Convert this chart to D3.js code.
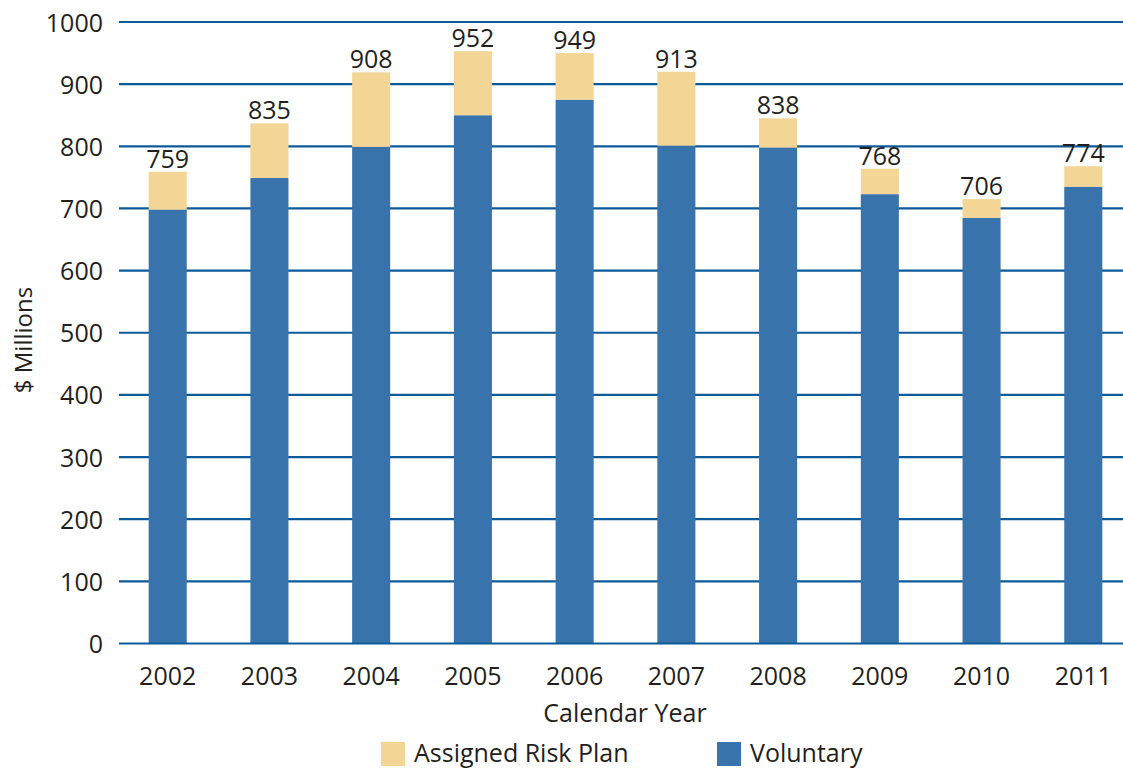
<!DOCTYPE html>
<html>
<head>
<meta charset="utf-8">
<script src="https://cdn.jsdelivr.net/npm/d3@7"></script>
<style>
  body { margin: 0; background: #fff; }
  text { font-family: "Open Sans", sans-serif; fill: #231f20; }
</style>
</head>
<body>
<script>
const w = 1123;
const h = 768;

// data
const years = ["2002", "2003", "2004", "2005", "2006", "2007", "2008", "2009", "2010", "2011"];
const voluntary = [698, 749, 799, 850, 875, 801, 798, 723, 685, 735];
const assignedRisk = [61, 88, 120, 103, 75, 119, 47, 41, 30, 33];
const totalLabels = [759, 835, 908, 952, 949, 913, 838, 768, 706, 774];
const yTicks = [0, 100, 200, 300, 400, 500, 600, 700, 800, 900, 1000];

const blue = "#3873ac";
const tan = "#f3d595";
const gridColor = "#0b5a9a";
const fs = 25;

const svg = d3.select("body").append("svg").attr("width", w).attr("height", h);

const rows = years.map((y, i) => ({
  year: y,
  voluntary: voluntary[i],
  assigned: assignedRisk[i],
  label: totalLabels[i]
}));

const xScale = d3.scaleBand().domain(years).range([85, 1166]).padding(0.626);
const yScale = d3.scaleLinear().domain([0, 1000]).range([643.5, 22]);

// y ticks
const yAxis = d3.axisLeft(yScale).tickValues(yTicks).tickFormat(d3.format("d")).tickSize(0).tickPadding(16);
const yG = svg.append("g").attr("transform", "translate(119,0)").call(yAxis);
yG.select(".domain").remove();
yG.selectAll(".tick line").remove();
yG.selectAll(".tick text")
  .attr("font-size", fs)
  .attr("dy", "0.36em")
  .attr("fill", "#231f20");

// gridlines
svg.append("g")
  .selectAll("line")
  .data(yTicks.filter((d) => d > 0))
  .join("line")
  .attr("x1", 119)
  .attr("x2", w)
  .attr("y1", (d) => yScale(d))
  .attr("y2", (d) => yScale(d))
  .attr("stroke", gridColor)
  .attr("stroke-width", 2.2);

// bars
const stack = d3.stack().keys(["voluntary", "assigned"])(rows);
const colors = { voluntary: blue, assigned: tan };

svg.append("g")
  .selectAll("g")
  .data(stack)
  .join("g")
  .attr("fill", (s) => colors[s.key])
  .selectAll("rect")
  .data((s) => s)
  .join("rect")
  .attr("x", (d) => xScale(d.data.year))
  .attr("width", xScale.bandwidth())
  .attr("y", (d) => yScale(d[1]))
  .attr("height", (d) => yScale(d[0]) - yScale(d[1]));

// zero line
svg.append("line")
  .attr("x1", 119)
  .attr("x2", w)
  .attr("y1", yScale(0))
  .attr("y2", yScale(0))
  .attr("stroke", gridColor)
  .attr("stroke-width", 2.2);

// value labels
svg.append("g")
  .selectAll("text")
  .data(rows)
  .join("text")
  .attr("x", (d) => xScale(d.year) + xScale.bandwidth() / 2)
  .attr("y", (d) => yScale(d.voluntary + d.assigned) - 4)
  .attr("text-anchor", "middle")
  .attr("font-size", fs)
  .text((d) => d.label);

// x axis
const xAxis = d3.axisBottom(xScale).tickSize(0).tickPadding(0);
const xG = svg.append("g").attr("transform", "translate(0,685)").call(xAxis);
xG.select(".domain").remove();
xG.selectAll(".tick text")
  .attr("font-size", fs)
  .attr("dy", 0)
  .attr("y", 0)
  .attr("fill", "#231f20");

svg.append("text")
  .attr("x", 625)
  .attr("y", 722)
  .attr("text-anchor", "middle")
  .attr("font-size", fs)
  .text("Calendar Year");

svg.append("text")
  .attr("transform", "rotate(-90)")
  .attr("x", -340)
  .attr("y", 32)
  .attr("text-anchor", "middle")
  .attr("font-size", 24)
  .text("$ Millions");

// legend
const legend = [
  { name: "Assigned Risk Plan", color: tan, x: 381 },
  { name: "Voluntary", color: blue, x: 717 }
];
const lg = svg.append("g").selectAll("g").data(legend).join("g")
  .attr("transform", (d) => `translate(${d.x},742)`);
lg.append("rect").attr("width", 24).attr("height", 24).attr("fill", (d) => d.color);
lg.append("text").attr("x", 33).attr("y", 20).attr("font-size", fs).text((d) => d.name);
</script>
</body>
</html>
